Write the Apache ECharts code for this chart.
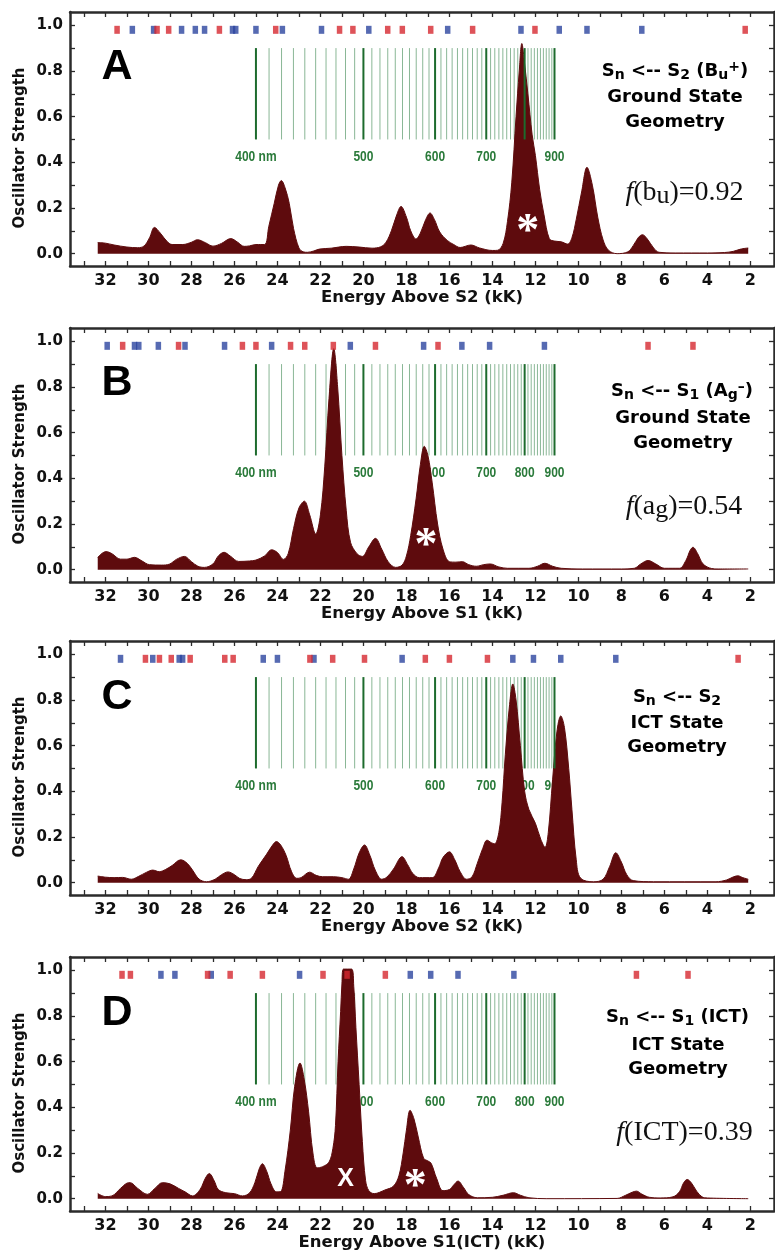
<!DOCTYPE html>
<html><head><meta charset="utf-8">
<script src="https://cdn.jsdelivr.net/npm/echarts@6/dist/echarts.min.js"></script>
<style>html,body{margin:0;padding:0;background:#fff}#c{width:775px;height:1255px}</style>
</head><body><div id="c"></div>
<script>
// ---------- data (energy in kK, oscillator strength) ----------
const xTickValues = [33,32,31,30,29,28,27,26,25,24,23,22,21,20,19,18,17,16,15,14,13,12,11,10,9,8,7,6,5,4,3,2];
const xLabelValues = [32,30,28,26,24,22,20,18,16,14,12,10,8,6,4,2];
const yTickValues = [0,0.1,0.2,0.3,0.4,0.5,0.6,0.7,0.8,0.9,1.0];
const yLabelValues = [0,0.2,0.4,0.6,0.8,1.0];
const wavelengthsNm = [400,410,420,430,440,450,460,470,480,490,500,510,520,530,540,550,560,570,580,590,600,610,620,630,640,650,660,670,680,690,700,710,720,730,740,750,760,770,780,790,800,810,820,830,840,850,860,870,880,890,900];
const wavelengthLabels = [400,500,600,700,800,900];

const specA = [[32.36,0.049],[32.0,0.046],[31.6,0.038],[31.0,0.029],[30.5,0.026],[30.2,0.034],[29.95,0.07],[29.72,0.115],[29.45,0.09],[29.15,0.055],[28.9,0.04],[28.4,0.04],[28.0,0.05],[27.72,0.061],[27.35,0.048],[27.0,0.033],[26.6,0.045],[26.17,0.066],[25.85,0.05],[25.55,0.032],[25.3,0.034],[25.0,0.04],[24.6,0.04],[24.4,0.12],[24.15,0.22],[23.95,0.3],[23.82,0.32],[23.65,0.29],[23.45,0.22],[23.25,0.11],[23.0,0.025],[22.8,0.008],[22.6,0.006],[22.3,0.012],[22.05,0.02],[21.5,0.024],[20.8,0.032],[20.2,0.029],[19.6,0.024],[19.2,0.03],[18.95,0.05],[18.7,0.1],[18.45,0.17],[18.25,0.207],[18.0,0.16],[17.8,0.1],[17.55,0.064],[17.35,0.09],[17.1,0.15],[16.9,0.178],[16.7,0.15],[16.45,0.095],[16.1,0.058],[15.8,0.04],[15.5,0.027],[15.0,0.038],[14.6,0.025],[14.0,0.014],[13.75,0.015],[13.5,0.045],[13.3,0.14],[13.1,0.31],[12.9,0.6],[12.75,0.8],[12.63,0.92],[12.5,0.83],[12.35,0.7],[12.15,0.52],[12.0,0.43],[11.8,0.28],[11.6,0.17],[11.35,0.065],[11.1,0.055],[10.8,0.052],[10.5,0.042],[10.3,0.07],[10.1,0.15],[9.85,0.27],[9.6,0.378],[9.35,0.3],[9.1,0.16],[8.85,0.06],[8.6,0.015],[8.2,0.0],[7.7,0.008],[7.45,0.035],[7.2,0.072],[7.02,0.083],[6.8,0.065],[6.5,0.025],[6.25,0.006],[5.5,0.003],[4.0,0.003],[3.2,0.005],[2.8,0.01],[2.45,0.02],[2.1,0.025]];
const specB = [[32.36,0.054],[32.15,0.072],[31.97,0.079],[31.7,0.07],[31.3,0.046],[31.0,0.046],[30.65,0.054],[30.3,0.038],[29.96,0.022],[29.4,0.02],[29.03,0.024],[28.7,0.045],[28.33,0.058],[28.0,0.035],[27.7,0.015],[27.4,0.01],[27.0,0.025],[26.75,0.06],[26.48,0.076],[26.2,0.06],[25.8,0.036],[25.3,0.038],[25.0,0.042],[24.6,0.06],[24.27,0.087],[24.0,0.075],[23.72,0.045],[23.5,0.07],[23.25,0.18],[23.0,0.27],[22.75,0.30],[22.5,0.24],[22.22,0.156],[22.0,0.24],[21.8,0.45],[21.6,0.75],[21.38,0.968],[21.2,0.8],[21.0,0.5],[20.8,0.26],[20.6,0.12],[20.3,0.07],[20.05,0.058],[19.75,0.1],[19.44,0.137],[19.15,0.09],[18.85,0.035],[18.5,0.01],[18.2,0.02],[18.0,0.06],[17.8,0.15],[17.55,0.31],[17.35,0.46],[17.17,0.54],[17.0,0.5],[16.8,0.38],[16.55,0.2],[16.3,0.09],[16.0,0.035],[15.7,0.033],[15.4,0.035],[15.1,0.022],[14.75,0.015],[14.4,0.022],[14.1,0.025],[13.7,0.012],[13.3,0.006],[12.3,0.006],[11.9,0.015],[11.56,0.028],[11.2,0.015],[10.8,0.006],[9.8,0.003],[8.0,0.003],[7.4,0.006],[7.1,0.025],[6.76,0.04],[6.4,0.025],[6.0,0.006],[5.3,0.006],[5.0,0.04],[4.8,0.085],[4.67,0.098],[4.45,0.07],[4.2,0.025],[3.8,0.005],[3.5,0.003],[2.1,0.003]];
const specC = [[32.36,0.029],[32.0,0.024],[31.6,0.022],[31.2,0.023],[30.8,0.015],[30.45,0.028],[30.1,0.045],[29.8,0.055],[29.5,0.048],[29.2,0.058],[28.9,0.075],[28.5,0.1],[28.2,0.085],[27.95,0.055],[27.65,0.016],[27.3,0.004],[26.9,0.015],[26.6,0.035],[26.3,0.047],[26.0,0.035],[25.75,0.018],[25.45,0.013],[25.2,0.02],[24.9,0.07],[24.5,0.125],[24.2,0.168],[24.05,0.18],[23.85,0.165],[23.6,0.12],[23.35,0.05],[23.1,0.019],[22.9,0.022],[22.5,0.046],[22.2,0.032],[21.9,0.026],[21.4,0.026],[21.0,0.022],[20.7,0.015],[20.45,0.06],[20.2,0.13],[19.95,0.165],[19.7,0.12],[19.45,0.055],[19.15,0.015],[18.9,0.025],[18.6,0.06],[18.2,0.114],[17.95,0.08],[17.7,0.04],[17.4,0.022],[16.8,0.022],[16.5,0.065],[16.3,0.11],[16.0,0.135],[15.75,0.1],[15.5,0.048],[15.2,0.015],[14.95,0.025],[14.7,0.085],[14.45,0.15],[14.25,0.186],[14.05,0.175],[13.9,0.17],[13.7,0.22],[13.55,0.35],[13.4,0.56],[13.2,0.78],[13.05,0.87],[12.9,0.8],[12.7,0.6],[12.5,0.4],[12.3,0.32],[12.0,0.26],[11.75,0.19],[11.55,0.155],[11.4,0.22],[11.2,0.45],[11.0,0.66],[10.82,0.73],[10.65,0.68],[10.45,0.5],[10.3,0.32],[10.1,0.1],[9.9,0.02],[9.3,0.004],[8.85,0.015],[8.55,0.07],[8.26,0.131],[8.0,0.09],[7.75,0.035],[7.45,0.009],[6.5,0.004],[3.6,0.004],[3.1,0.012],[2.8,0.025],[2.58,0.03],[2.35,0.022],[2.1,0.015]];
const specD = [[32.36,0.023],[32.0,0.009],[31.7,0.012],[31.3,0.045],[31.0,0.068],[30.85,0.07],[30.5,0.045],[30.05,0.019],[29.7,0.045],[29.35,0.07],[29.0,0.065],[28.6,0.045],[28.3,0.03],[27.95,0.012],[27.6,0.04],[27.35,0.09],[27.17,0.11],[26.95,0.08],[26.75,0.04],[26.4,0.026],[26.0,0.022],[25.63,0.012],[25.3,0.025],[25.05,0.07],[24.85,0.13],[24.7,0.153],[24.5,0.12],[24.3,0.065],[24.05,0.03],[23.85,0.031],[23.65,0.12],[23.4,0.3],[23.2,0.49],[22.95,0.594],[22.75,0.52],[22.55,0.38],[22.35,0.2],[22.15,0.135],[21.9,0.14],[21.6,0.16],[21.42,0.22],[21.3,0.32],[21.18,0.6],[21.06,0.82],[21.0,0.94],[20.93,1.005],[20.55,1.005],[20.45,0.93],[20.35,0.75],[20.2,0.5],[20.05,0.25],[19.9,0.08],[19.75,0.035],[19.5,0.022],[19.0,0.038],[18.6,0.055],[18.35,0.1],[18.15,0.2],[18.0,0.3],[17.83,0.387],[17.65,0.35],[17.45,0.27],[17.2,0.177],[17.0,0.165],[16.85,0.155],[16.6,0.09],[16.3,0.035],[16.0,0.04],[15.8,0.06],[15.6,0.077],[15.35,0.05],[15.1,0.018],[14.7,0.004],[14.0,0.006],[13.5,0.015],[13.02,0.026],[12.7,0.015],[12.3,0.004],[11.5,0.0],[8.2,0.001],[7.8,0.015],[7.5,0.028],[7.3,0.033],[7.05,0.02],[6.7,0.006],[6.2,0.003],[5.6,0.008],[5.3,0.03],[5.1,0.07],[4.94,0.084],[4.75,0.07],[4.5,0.033],[4.25,0.008],[4.0,0.003],[2.1,0.0]];

const redA = [31.46,29.6,29.06,26.7,24.08,21.11,20.49,18.87,18.19,16.87,14.92,12.02,2.24];
const blueA = [30.75,29.76,28.46,27.82,27.39,26.09,25.94,25.0,23.77,21.95,19.75,16.08,12.67,10.89,9.6,7.05];
const redB = [31.2,28.6,25.63,25.0,23.39,22.73,21.4,19.44,16.53,6.76,4.67];
const blueB = [31.92,30.65,30.45,29.54,28.3,26.46,24.27,20.61,17.2,15.42,14.13,11.58];
const redC = [30.14,29.49,28.94,28.06,26.45,26.06,22.49,21.43,19.95,17.12,16.0,14.23,2.57];
const blueC = [31.3,29.8,28.57,28.41,24.66,24.0,22.3,18.2,13.05,12.09,10.82,8.26];
const redD = [31.23,30.84,27.25,26.2,24.7,21.88,20.76,18.98,7.3,4.9];
const blueD = [29.42,28.77,27.08,22.97,17.82,16.87,15.6,13.0];

const starA = [[12.36,0.13]];
const starB = [[17.09,0.137]];
const starD = [[17.59,0.084]];
const crossD = [[20.83,0.084]];
const stickLevel = 0.98;

// ---------- layout ----------
const tops = [12, 328, 641, 957];
const gridH = 254;
const X_LOW = 0.9, X_HIGH = 33.65;
const Y_MIN = -0.054, Y_MAX = 1.058;
const FRAME = '#2b2b2b';
const AREA = '#5e0b0d';
const RED = '#d6282f', BLUE = '#2c459f';
const GREEN_DARK = '#1d6b2d', GREEN_LIGHT = 'rgba(60,135,80,0.6)', GREEN_TEXT = '#2a7a3a';

const panels = [
  {spec: specA, red: redA, blue: blueA, xName: 'Energy Above S2 (kK)', stars: starA, crosses: []},
  {spec: specB, red: redB, blue: blueB, xName: 'Energy Above S1 (kK)', stars: starB, crosses: []},
  {spec: specC, red: redC, blue: blueC, xName: 'Energy Above S2 (kK)', stars: [], crosses: []},
  {spec: specD, red: redD, blue: blueD, xName: 'Energy Above S1(ICT) (kK)', stars: starD, crosses: crossD}
];

const grid = [], xAxis = [], yAxis = [], series = [], graphic = [];
const tickFont = {fontFamily: '"DejaVu Sans", sans-serif', fontWeight: 'bold', color: '#111'};

panels.forEach((p, i) => {
  grid.push({left: 70, top: tops[i], width: 704, height: gridH, show: false});
  const axLine = {show: true, onZero: false, lineStyle: {color: FRAME, width: 2.5}};
  const xt = {show: true, inside: true, length: 5, lineStyle: {color: FRAME, width: 1.3}, customValues: xTickValues};
  xAxis.push({gridIndex: i, type: 'value', min: X_LOW, max: X_HIGH, inverse: true, position: 'bottom',
    axisLine: axLine, axisTick: xt, splitLine: {show: false},
    axisLabel: {show: true, customValues: xLabelValues, margin: 7, fontSize: 16, ...tickFont, formatter: v => String(Math.round(v))}});
  xAxis.push({gridIndex: i, type: 'value', min: X_LOW, max: X_HIGH, inverse: true, position: 'top',
    axisLine: axLine, axisTick: xt, splitLine: {show: false}, axisLabel: {show: false}});
  const yt = {show: true, inside: true, length: 5, lineStyle: {color: FRAME, width: 1.3}, customValues: yTickValues};
  yAxis.push({gridIndex: i, type: 'value', min: Y_MIN, max: Y_MAX, position: 'left',
    axisLine: axLine, axisTick: yt, splitLine: {show: false},
    axisLabel: {show: true, customValues: yLabelValues, margin: 7, fontSize: 15, ...tickFont, formatter: v => v.toFixed(1)}});
  yAxis.push({gridIndex: i, type: 'value', min: Y_MIN, max: Y_MAX, position: 'right',
    axisLine: axLine, axisTick: yt, splitLine: {show: false}, axisLabel: {show: false}});

  const xi = 2 * i, yi = 2 * i;
  series.push({type: 'custom', xAxisIndex: xi, yAxisIndex: yi, z: 1, silent: true,
    data: wavelengthsNm.filter(w => w % 100 !== 0).map(w => [1e4 / w, 0.5]),
    renderItem: (params, api) => {
      const a = api.coord([api.value(0), 0.5]), b = api.coord([api.value(0), 0.9]);
      return {type: 'line', shape: {x1: a[0], y1: a[1], x2: b[0], y2: b[1]}, style: {stroke: GREEN_LIGHT, lineWidth: 1}};
    }});
  series.push({type: 'custom', xAxisIndex: xi, yAxisIndex: yi, z: 1, silent: true,
    data: wavelengthLabels.map(w => [1e4 / w, 0.422, w]),
    renderItem: (params, api) => {
      const c = api.coord([api.value(0), api.value(1)]);
      const w = api.value(2);
      return {type: 'text', x: c[0], y: c[1], scaleX: 0.8, style: {text: w === 400 ? '400 nm' : String(w), fill: GREEN_TEXT,
        font: 'bold 15px "Liberation Sans", sans-serif', align: 'center', verticalAlign: 'middle'}};
    }});
  series.push({type: 'line', xAxisIndex: xi, yAxisIndex: yi, z: 2, data: p.spec, smooth: 0.35, symbol: 'none',
    lineStyle: {color: AREA, width: 1}, areaStyle: {color: AREA, opacity: 1}, silent: true});
  series.push({type: 'custom', xAxisIndex: xi, yAxisIndex: yi, z: 3, silent: true,
    data: wavelengthsNm.filter(w => w % 100 === 0).map(w => [1e4 / w, 0.5]),
    renderItem: (params, api) => {
      const a = api.coord([api.value(0), 0.5]), b = api.coord([api.value(0), 0.9]);
      return {type: 'line', shape: {x1: a[0], y1: a[1], x2: b[0], y2: b[1]}, style: {stroke: GREEN_DARK, lineWidth: 2}};
    }});
  series.push({type: 'scatter', xAxisIndex: xi, yAxisIndex: yi, z: 4, silent: true, symbol: 'rect', symbolSize: [5.5, 8],
    itemStyle: {color: BLUE}, data: p.blue.map(v => [v, stickLevel])});
  series.push({type: 'scatter', xAxisIndex: xi, yAxisIndex: yi, z: 4, silent: true, symbol: 'rect', symbolSize: [5.5, 8],
    itemStyle: {color: RED}, data: p.red.map(v => [v, stickLevel])});
  const markText = (text, size, family, dy) => (params, api) => {
    const c = api.coord([api.value(0), api.value(1)]);
    return {type: 'text', x: c[0], y: c[1] + dy, style: {text: text, fill: '#fff', font: 'bold ' + size + 'px ' + family,
      align: 'center', verticalAlign: 'middle'}};
  };
  if (p.stars.length) series.push({type: 'custom', xAxisIndex: xi, yAxisIndex: yi, z: 5, silent: true, data: p.stars,
    renderItem: markText('*', 46, '"Liberation Serif", serif', 9)});
  if (p.crosses.length) series.push({type: 'custom', xAxisIndex: xi, yAxisIndex: yi, z: 5, silent: true, data: p.crosses,
    renderItem: markText('X', 25, '"Liberation Sans"', 0)});

  graphic.push({type: 'text', x: 422, y: tops[i] + 286, style: {text: p.xName, fill: '#111',
    font: 'bold 16.5px "DejaVu Sans", sans-serif', align: 'center', verticalAlign: 'middle'}});
  graphic.push({type: 'text', x: 20, y: tops[i] + 136, rotation: Math.PI / 2, style: {text: 'Oscillator Strength', fill: '#111',
    font: 'bold 15px "DejaVu Sans", sans-serif', align: 'center', verticalAlign: 'middle'}});
});

const letters = [['A', 67], ['B', 383], ['C', 697.5], ['D', 1013]];
letters.forEach(([t, y]) => graphic.push({type: 'text', x: 117, y: y, style: {text: t, fill: '#000',
  font: 'bold 43px "Liberation Sans", Arial, sans-serif', align: 'center', verticalAlign: 'middle'}}));

const TF = '"DejaVu Sans", sans-serif';
const titleRich = {
  m: {fontSize: 18, fontWeight: 'bold', fontFamily: TF, fill: '#000', lineHeight: 22},
  s: {fontSize: 14, fontWeight: 'bold', fontFamily: TF, fill: '#000', lineHeight: 12, verticalAlign: 'bottom'},
  p: {fontSize: 14, fontWeight: 'bold', fontFamily: TF, fill: '#000', lineHeight: 14, verticalAlign: 'top'}
};
function title(x, y, text) {
  graphic.push({type: 'text', x: x, y: y, style: {text: text, rich: titleRich, align: 'center', verticalAlign: 'middle'}});
}
function plain(x, y, text) {
  graphic.push({type: 'text', x: x, y: y, style: {text: text, fill: '#000', font: 'bold 18px ' + TF, align: 'center', verticalAlign: 'middle'}});
}
title(675, 71, '{m|S}{s|n}{m| <-- S}{s|2}{m| (B}{s|u}{p|+}{m|)}');
plain(675, 97, 'Ground State'); plain(675, 122, 'Geometry');
title(682, 391, '{m|S}{s|n}{m| <-- S}{s|1}{m| (A}{s|g}{p|\u2013}{m|)}');
plain(683, 418, 'Ground State'); plain(683, 443, 'Geometry');
title(677, 697, '{m|S}{s|n}{m| <-- S}{s|2}');
plain(677, 723, 'ICT State'); plain(677, 747, 'Geometry');
title(677.5, 1017, '{m|S}{s|n}{m| <-- S}{s|1}{m| (ICT)}');
plain(678, 1045, 'ICT State'); plain(678, 1069, 'Geometry');

const SF = '"Liberation Serif", "Times New Roman", serif';
const fRich = {
  i: {fontSize: 28, fontStyle: 'italic', fontFamily: SF, fill: '#111', lineHeight: 32},
  r: {fontSize: 28, fontFamily: SF, fill: '#111', lineHeight: 32},
  s: {fontSize: 26, fontFamily: SF, fill: '#111', lineHeight: 24, verticalAlign: 'bottom'}
};
function fLabel(x, y, text) {
  graphic.push({type: 'text', x: x, y: y, style: {text: text, rich: fRich, align: 'center', verticalAlign: 'middle'}});
}
fLabel(684.5, 193, '{i|f}{r|(b}{s|u}{r|)=0.92}');
fLabel(684, 507, '{i|f}{r|(a}{s|g}{r|)=0.54}');
fLabel(684.5, 1133, '{i|f}{r|(ICT)=0.39}');

const chart = echarts.init(document.getElementById('c'), null, {renderer: 'canvas'});
chart.setOption({animation: false, backgroundColor: '#fff', grid, xAxis, yAxis, series, graphic});
</script></body></html>
